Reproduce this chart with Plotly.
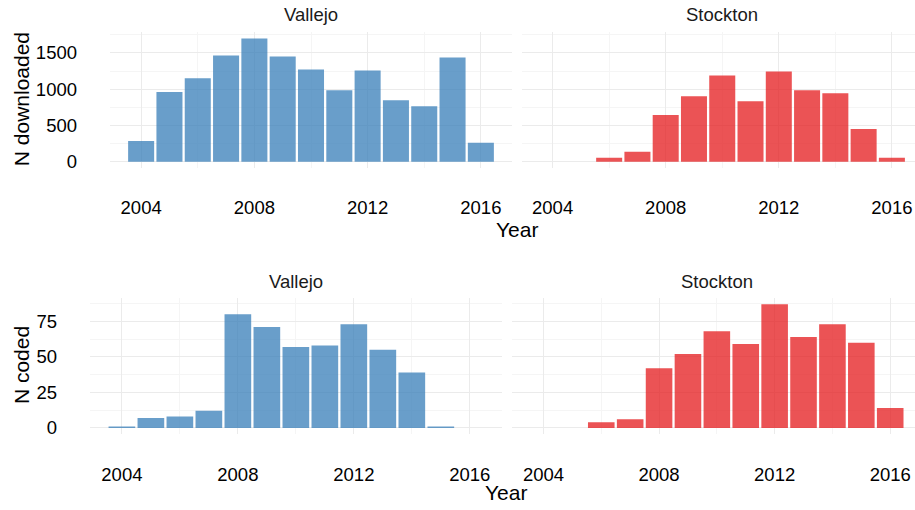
import plotly.graph_objects as go

# counts per year
vallejo_dl_years = [2004, 2005, 2006, 2007, 2008, 2009, 2010, 2011, 2012, 2013, 2014, 2015, 2016]
vallejo_dl = [285, 960, 1150, 1465, 1700, 1450, 1272, 985, 1259, 848, 766, 1436, 260]

stockton_dl_years = [2006, 2007, 2008, 2009, 2010, 2011, 2012, 2013, 2014, 2015, 2016]
stockton_dl = [55, 137, 643, 903, 1190, 834, 1245, 985, 944, 451, 55]

vallejo_cd_years = [2004, 2005, 2006, 2007, 2008, 2009, 2010, 2011, 2012, 2013, 2014, 2015]
vallejo_cd = [1, 7, 8, 12, 80, 71, 57, 58, 73, 55, 39, 1]

stockton_cd_years = [2006, 2007, 2008, 2009, 2010, 2011, 2012, 2013, 2014, 2015, 2016]
stockton_cd = [4, 6, 42, 52, 68, 59, 87, 64, 73, 60, 14]

facet_labels = ["Vallejo", "Stockton"]
x_ticks = [2004, 2008, 2012, 2016]

BLUE = "rgba(55,126,184,0.75)"
RED = "rgba(228,26,28,0.75)"
FONT = "Liberation Sans, Arial, sans-serif"
W, H = 915, 510

def px_x(p):
    return p / W

def px_y(p):
    return 1 - p / H

fig = go.Figure()

panels = [
    (vallejo_dl_years, vallejo_dl, BLUE, "x", "y"),
    (stockton_dl_years, stockton_dl, RED, "x2", "y2"),
    (vallejo_cd_years, vallejo_cd, BLUE, "x3", "y3"),
    (stockton_cd_years, stockton_cd, RED, "x4", "y4"),
]
for xs, ys, col, xa, ya in panels:
    fig.add_trace(go.Bar(x=xs, y=ys, width=0.92, marker=dict(color=col, line=dict(width=0)),
                         xaxis=xa, yaxis=ya, showlegend=False))

grid = "#EBEBEB"
minor_grid = "#F5F5F5"
tickfont = dict(family=FONT, size=18.5, color="black")

# pixel geometry of the panels (left, right) and (top, bottom)
x_full = [2002.9, 2017.1]
top_rows = (32.5, 169.2)
bot_rows = (300.5, 437.5)
cols_top = [(110, 512), (521.5, 923)]
cols_bot = [(90, 501.7), (511.7, 922)]

def xaxis_def(l, r):
    ppy = (r - l) / (x_full[1] - x_full[0])
    right = min(r, W)
    rng = [x_full[0], x_full[0] + (right - l) / ppy]
    return dict(domain=[px_x(l), px_x(right)], range=rng, tickvals=x_ticks,
                showgrid=True, gridcolor=grid, gridwidth=1.1, zeroline=False,
                showline=False, ticks="", tickfont=tickfont, ticklabelstandoff=27,
                minor=dict(tickvals=[2006, 2010, 2014], showgrid=True,
                           gridcolor=minor_grid, gridwidth=1))

def yaxis_def(t, b, rng, dtick, show_labels, anchor):
    return dict(domain=[px_y(b), px_y(t)], range=rng, dtick=dtick, tick0=0,
                showgrid=True, gridcolor=grid, gridwidth=1.1, zeroline=False,
                showline=False, ticks="", tickfont=tickfont, ticklabelstandoff=32,
                showticklabels=show_labels, anchor=anchor,
                minor=dict(dtick=dtick / 2, tick0=dtick / 2, showgrid=True,
                           gridcolor=minor_grid, gridwidth=1))

top_range = [-85, 1785]
bot_range = [-4.35, 91.35]

fig.update_layout(
    width=W, height=H, margin=dict(l=0, r=0, t=0, b=0),
    plot_bgcolor="white", paper_bgcolor="white", barmode="overlay",
    font=dict(family=FONT),
    xaxis=dict(**xaxis_def(*cols_top[0]), anchor="y"),
    xaxis2=dict(**xaxis_def(*cols_top[1]), anchor="y2"),
    xaxis3=dict(**xaxis_def(*cols_bot[0]), anchor="y3"),
    xaxis4=dict(**xaxis_def(*cols_bot[1]), anchor="y4"),
    yaxis=yaxis_def(*top_rows, top_range, 500, True, "x"),
    yaxis2=yaxis_def(*top_rows, top_range, 500, False, "x2"),
    yaxis3=yaxis_def(*bot_rows, bot_range, 25, True, "x3"),
    yaxis4=yaxis_def(*bot_rows, bot_range, 25, False, "x4"),
)

ann = []
strip_font = dict(family=FONT, size=18.5, color="#1A1A1A")
title_font = dict(family=FONT, size=21, color="black")
for (cols, ystrip) in [(cols_top, 15), (cols_bot, 284)]:
    for (l, r), lab in zip(cols, facet_labels):
        ann.append(dict(text=lab, x=px_x((l + r) / 2), y=px_y(ystrip), xref="paper", yref="paper",
                        showarrow=False, font=strip_font, xanchor="center", yanchor="middle"))

# axis titles
ann.append(dict(text="Year", x=px_x((110 + 923) / 2), y=px_y(231), xref="paper", yref="paper",
                showarrow=False, font=title_font, xanchor="center", yanchor="middle"))
ann.append(dict(text="Year", x=px_x((90 + 922) / 2), y=px_y(496), xref="paper", yref="paper",
                showarrow=False, font=title_font, xanchor="center", yanchor="middle"))
ann.append(dict(text="N downloaded", x=px_x(21), y=px_y(100), xref="paper", yref="paper",
                showarrow=False, font=title_font, textangle=-90, xanchor="center", yanchor="middle"))
ann.append(dict(text="N coded", x=px_x(21), y=px_y(368), xref="paper", yref="paper",
                showarrow=False, font=title_font, textangle=-90, xanchor="center", yanchor="middle"))
fig.update_layout(annotations=ann)

# drop the default 8px body margin so the figure sits at the page corner
fig.write_html("out.html", config={"displayModeBar": False},
               post_script="document.body.style.margin='0';")
